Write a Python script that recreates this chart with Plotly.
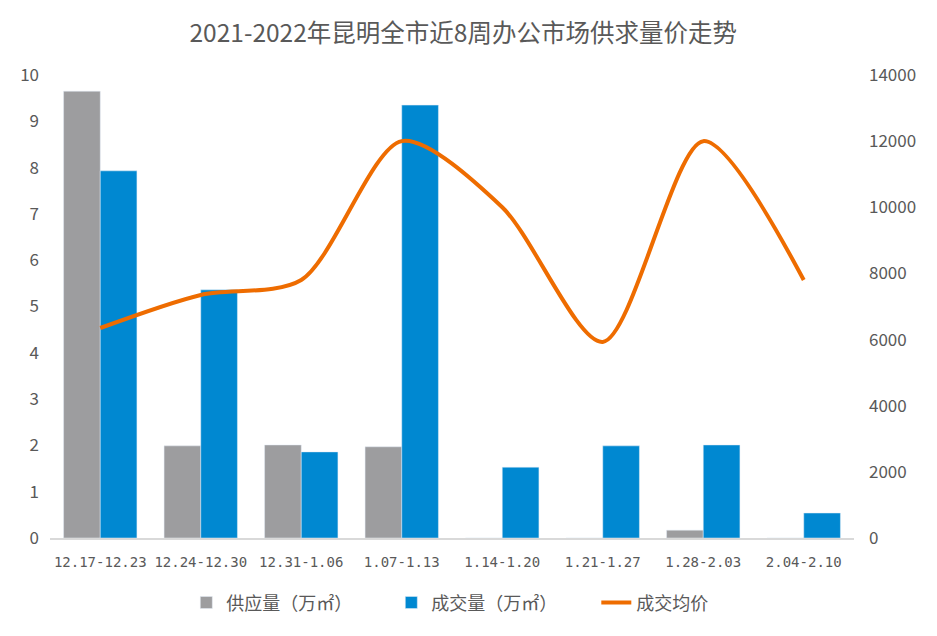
import plotly.graph_objects as go

# weekly office market data, Kunming
weeks = ["12.17-12.23", "12.24-12.30", "12.31-1.06", "1.07-1.13",
         "1.14-1.20", "1.21-1.27", "1.28-2.03", "2.04-2.10"]
supply = [9.65, 1.99, 2.01, 1.97, 0, 0, 0.17, 0]
deals = [7.93, 5.36, 1.86, 9.35, 1.53, 1.99, 2.01, 0.54]
avg_price = [6350, 7350, 7800, 12000, 10000, 5930, 12000, 7800]

font_name = "Noto Sans CJK SC"
text_grey = "#595959"

fig = go.Figure()
fig.add_trace(go.Bar(x=weeks, y=supply, name="供应量（万㎡）", marker_color="#9d9d9f"))
fig.add_trace(go.Bar(x=weeks, y=deals, name="成交量（万㎡）", marker_color="#0088d1"))
fig.add_trace(go.Scatter(x=weeks, y=avg_price, name="成交均价", yaxis="y2",
                         mode="lines", line=dict(color="#ee6c00", width=4, shape="spline", smoothing=0.8)))

# page body adds 8px, so the figure is a bit smaller than the window
fig.update_layout(
    width=929, height=628,
    margin=dict(l=42, r=83, t=67, b=98),
    paper_bgcolor="white", plot_bgcolor="white",
    font=dict(family=font_name, color=text_grey, size=14),
    title=dict(text="2021-2022年昆明全市近8周办公市场供求量价走势", x=0.49, xanchor="center",
               y=0.96, yanchor="middle", font=dict(size=24.5, color=text_grey)),
    barmode="group", bargap=0.27, bargroupgap=0,
    showlegend=True,
    legend=dict(orientation="h", x=0.552, xanchor="center", y=-0.1, yanchor="top",
                font=dict(size=18, color=text_grey), traceorder="normal",
                entrywidth=160, itemwidth=30),
    xaxis=dict(showgrid=False, showline=True, linecolor="#d9d9d9", linewidth=2,
               ticks="", ticklabelstandoff=10,
               tickfont=dict(size=14, family="DejaVu Sans Mono")),
    yaxis=dict(range=[0, 10], dtick=1, showgrid=False, zeroline=False, showline=False,
               ticks="", ticklabelstandoff=10, tickfont=dict(size=17)),
    yaxis2=dict(range=[0, 14000], dtick=2000, tickformat="d", overlaying="y", side="right",
                showgrid=False, zeroline=False, showline=False, ticks="",
                ticklabelstandoff=14, tickfont=dict(size=17)),
)

fig.write_html("out.html")
